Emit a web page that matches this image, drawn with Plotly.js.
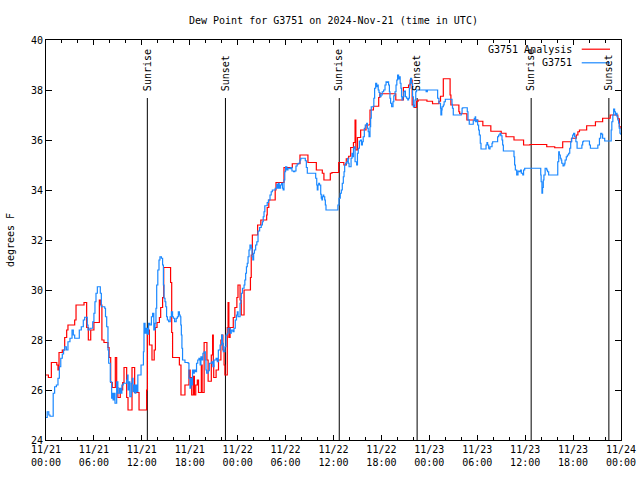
<!DOCTYPE html>
<html>
<head>
<meta charset="utf-8">
<script src="https://cdn.plot.ly/plotly-3.0.1.min.js"></script>
<style>html,body{margin:0;padding:0;background:#fff;}#chart{width:640px;height:480px;}</style>
</head>
<body>
<div id="chart"></div>
<script>
// Hours after 2024-11-21 00:00 UTC and dew point (deg F)
const analysisHours = [0,0.3,0.67,1.35,1.5,1.63,2.04,2.34,2.59,2.75,
3.59,3.76,4.76,5.09,5.3,5.6,6.0,6.68,6.85,7.0,
7.26,7.76,7.9,8.1,8.3,8.68,8.85,9.0,9.3,9.6,
9.77,10.1,10.27,10.77,11.1,11.65,12.6,12.7,12.95,13.27,
13.55,13.7,13.9,14.2,14.36,14.6,14.74,15.6,15.74,15.85,
16.7,16.9,17.4,17.9,18.05,18.24,18.45,18.58,18.75,18.95,
19.1,19.45,19.55,19.8,20.15,20.3,20.7,20.86,20.95,21.0,
21.3,21.6,21.9,22.0,22.15,22.3,22.4,22.7,22.8,22.9,
23.05,23.45,23.65,23.9,24.04,24.3,24.45,24.8,25.6,25.7,
25.84,26.5,26.9,27.63,27.7,27.9,28.7,28.8,29.8,30.84,
31.8,32.8,33.85,34.6,34.8,35.6,35.8,36.65,37.3,37.6,
37.9,38.15,38.5,38.7,38.8,39.0,39.4,40.07,40.57,41.0,
41.66,41.8,43.8,44.75,45.4,45.6,45.85,46.1,46.4,46.6,
47.7,48.4,49.2,49.4,49.75,50.6,50.7,51.7,51.8,52.7,
54.06,54.7,55.7,57.0,57.6,58.6,59.8,60.6,62.7,63.7,
64.7,65.8,66.4,66.6,66.8,67.7,68.8,69.7,70.65,71.6,
71.8,72.0];
const analysisDew = [26.6,26.5,27.1,27.0,26.8,27.5,27.6,28.1,28.4,28.6,
28.8,29.4,29.5,28.5,28.0,28.4,28.7,29.6,29.4,28.0,
27.9,27.7,27.3,26.3,26.1,27.3,26.1,25.7,26.0,26.3,
26.9,25.7,25.2,26.9,25.9,25.2,26.0,28.4,27.8,27.2,
27.6,28.5,28.7,28.9,29.3,29.7,30.9,30.3,28.3,27.3,
27.0,25.8,26.2,26.8,26.5,25.8,26.55,25.8,26.2,26.4,
25.9,27.0,25.9,27.9,27.2,26.35,27.4,28.2,27.0,26.5,
26.8,27.2,28.0,28.2,27.6,27.0,26.6,28.5,29.5,28.1,
28.5,28.9,29.3,29.7,30.2,29.6,29.0,30.0,30.5,31.4,
32.2,32.6,32.8,33.0,33.3,33.6,34.0,34.3,34.9,35.05,
35.4,35.1,34.8,34.67,34.4,34.67,34.7,35.1,35.0,35.25,
35.35,35.7,35.9,36.8,35.6,36.1,36.4,36.6,37.2,37.35,
37.7,37.85,37.6,38.1,38.2,38.4,37.4,37.3,37.55,37.6,
37.55,37.45,37.55,37.75,38.45,37.8,37.4,37.13,37.05,36.8,
36.75,36.57,36.35,36.27,36.13,36.0,35.8,35.82,35.73,35.69,
35.93,36.07,36.2,36.33,36.4,36.57,36.73,36.87,37.0,36.85,
36.53,36.45];

const stationHours = [0,0.15,0.35,0.5,0.9,1.08,1.3,1.5,1.67,1.85,
2.04,2.2,2.34,2.55,2.75,3.0,3.26,3.42,3.59,4.17,
4.42,4.67,4.84,5.17,5.26,5.5,5.85,6.0,6.13,6.26,
6.43,6.8,6.93,7.35,7.45,7.6,7.76,7.85,8.05,8.22,
8.3,8.4,8.5,8.64,8.85,9.0,9.2,9.35,9.5,9.68,
10.1,10.2,10.27,10.4,10.5,10.68,10.8,10.9,11.0,11.15,
11.25,11.35,11.5,11.9,12.2,12.27,12.4,12.55,12.7,12.85,
13.0,13.2,13.35,13.5,13.65,13.77,13.86,14.0,14.15,14.27,
14.45,14.6,14.7,14.78,14.9,15.0,15.1,15.2,15.36,15.55,
15.7,15.85,15.95,16.1,16.3,16.45,16.57,16.7,16.8,16.88,
16.95,17.02,17.1,17.4,17.8,17.9,18.03,18.15,18.25,18.35,
18.45,18.57,18.7,18.85,19.0,19.15,19.3,19.4,19.55,19.65,
19.8,19.95,20.03,20.12,20.3,20.45,20.75,20.9,21.04,21.3,
21.45,21.58,21.8,22.0,22.1,22.2,22.4,22.54,22.7,22.8,
23.05,23.2,23.4,23.54,23.7,23.85,23.96,24.05,24.3,24.4,
24.46,24.6,24.8,24.9,25.0,25.1,25.2,25.3,25.42,25.54,
25.7,25.8,25.9,26.0,26.1,26.25,26.4,26.55,26.75,26.95,
27.1,27.2,27.3,27.4,27.7,27.85,28.05,28.2,28.34,28.7,
28.9,29.0,29.1,29.2,29.35,29.5,29.6,29.7,29.8,29.9,
30.0,30.15,30.3,30.55,30.65,30.8,31.0,31.15,31.3,31.45,
31.6,31.8,31.9,32.47,32.6,32.72,33.77,33.9,33.97,34.05,
34.15,34.25,34.4,34.47,34.55,34.62,34.7,34.78,34.9,34.98,
35.06,36.55,36.69,36.85,36.98,37.1,37.23,37.32,37.4,37.52,
37.65,37.78,37.85,37.95,38.2,38.32,38.4,38.5,38.58,38.7,
38.9,39.0,39.1,39.24,39.4,39.5,39.62,39.72,39.86,39.98,
40.15,40.25,40.35,40.45,40.57,40.65,40.73,41.05,41.15,41.28,
41.4,41.5,41.6,41.7,41.82,41.95,42.1,42.28,42.45,42.58,
42.7,42.8,42.9,43.0,43.07,43.15,43.28,43.45,43.55,43.7,
43.83,43.93,44.03,44.15,44.25,44.35,44.45,44.52,44.58,44.68,
44.8,44.9,45.0,45.15,45.3,45.4,45.5,45.58,45.66,45.78,
45.9,46.0,46.2,46.3,46.4,47.6,47.75,49.04,49.2,49.4,
49.45,49.55,49.6,49.75,49.85,50.0,50.84,50.9,51.0,52.0,
52.1,52.18,52.75,52.84,53.0,53.5,53.63,53.75,53.8,53.9,
54.05,54.17,54.26,54.38,54.47,55.1,55.22,55.3,55.43,55.5,
55.6,55.85,55.93,56.55,56.68,56.85,56.97,57.1,57.18,57.27,
58.6,58.68,58.77,58.94,59.1,59.27,59.43,59.52,59.7,59.8,
59.94,61.95,62.0,62.1,62.18,62.27,62.35,62.5,62.7,62.8,
62.94,64.08,64.2,64.28,64.4,64.5,64.58,64.74,64.85,64.95,
65.0,65.15,65.28,65.45,65.58,65.7,65.82,65.95,66.07,66.2,
66.35,66.5,67.1,67.2,67.3,68.05,68.17,69.1,69.3,69.46,
69.6,69.7,69.96,70.77,70.85,70.98,71.08,71.2,71.3,71.35,
71.5,71.6,71.7,71.78,71.87,72.0];
const stationDew = [24.9,25.13,25.0,24.95,25.87,26.13,26.2,26.47,26.93,27.27,
27.44,27.6,27.73,27.6,27.93,28.07,28.4,28.2,28.07,28.4,
28.53,28.8,28.91,28.6,28.4,28.47,28.73,29.07,29.53,29.87,
30.13,29.87,29.33,29.27,28.93,28.53,27.6,27.07,26.33,25.67,
25.87,25.6,25.87,25.47,26.33,25.87,26.07,25.87,26.2,26.27,
26.4,26.6,26.0,26.33,25.73,26.27,26.47,25.93,26.2,25.87,
26.2,25.93,26.6,27.0,27.53,28.67,28.27,28.47,28.23,28.67,
28.6,28.93,29.07,28.4,28.67,29.27,30.2,30.8,31.2,31.33,
31.27,31.0,30.2,29.67,29.53,29.33,28.93,28.8,28.73,28.93,
29.13,28.93,28.87,28.73,28.87,28.93,29.13,29.0,28.93,28.6,
28.2,27.67,27.2,27.1,27.07,26.47,26.07,26.47,26.2,26.8,
26.67,26.8,26.73,27.07,27.2,27.27,27.0,27.33,27.2,27.47,
27.53,27.2,26.8,26.67,26.77,27.07,27.13,26.93,27.2,27.27,
27.13,27.6,27.8,28.2,27.87,27.53,27.73,28.2,28.27,28.47,
28.27,28.4,28.33,28.47,28.8,29.0,29.13,28.93,29.47,29.67,
29.87,30.07,30.2,30.4,30.67,30.93,31.07,31.33,31.6,31.8,
31.67,31.33,31.2,31.47,31.6,31.8,31.93,32.36,32.5,32.6,
32.73,32.93,33.13,33.37,33.5,33.6,33.8,33.93,34.0,34.07,
34.23,34.07,34.27,34.07,34.2,34.27,34.07,34.0,34.4,34.73,
34.93,34.8,34.87,34.85,34.9,34.76,34.73,34.76,34.96,35.04,
35.07,35.2,35.27,35.17,34.9,34.67,34.47,34.2,34.0,34.2,
34.27,34.2,33.83,33.67,33.6,33.73,33.8,33.73,33.6,33.4,
33.2,33.4,33.67,33.87,34.0,34.27,34.53,34.73,35.0,35.07,
35.13,35.27,35.07,34.93,35.27,35.47,35.33,35.67,35.73,35.13,
35.0,35.47,35.67,35.96,36.0,35.8,35.93,36.13,36.47,36.6,
36.67,36.47,36.33,36.13,36.53,36.87,37.33,37.67,38.07,38.27,
38.13,38.2,38.0,37.9,37.73,37.8,37.93,38.0,38.2,38.33,
38.3,38.33,38.2,37.93,37.67,37.47,37.33,37.53,37.77,37.93,
38.2,38.4,38.6,38.44,38.53,38.27,38.07,37.73,37.6,37.73,
37.93,37.96,37.73,37.67,37.6,37.67,38.07,38.27,38.47,38.27,
37.73,37.33,37.6,37.93,38.0,37.93,38.0,37.67,37.47,37.27,
37.0,37.2,37.33,37.4,37.53,37.63,37.43,37.27,37.0,37.07,
37.27,37.29,37.13,36.8,36.63,36.77,36.87,36.93,36.73,36.8,
36.6,36.4,36.2,35.87,35.64,35.8,35.9,35.8,35.67,35.64,
35.73,35.87,35.93,36.13,36.2,36.27,36.17,36.0,35.8,35.56,
35.33,35.0,34.8,34.6,34.76,34.73,34.8,34.67,34.6,34.8,
34.87,34.6,34.33,33.87,34.1,34.4,34.6,34.87,34.8,34.73,
34.6,35.13,35.53,35.4,35.27,35.2,35.07,34.96,35.0,35.07,
35.2,35.33,35.4,35.47,35.67,35.93,36.07,36.2,36.27,36.13,
35.93,35.67,35.8,35.93,35.96,35.8,35.67,35.8,36.07,36.27,
36.23,36.07,35.96,36.4,36.73,37.0,37.24,37.13,37.0,37.07,
36.93,36.8,36.67,36.47,36.27,36.2];

const sunEventHours = [12.69, 22.47, 36.72, 46.47, 60.75, 70.48];
const sunEventLabels = ["Sunrise", "Sunset", "Sunrise", "Sunset", "Sunrise", "Sunset"];
const seriesNames = ["G3751 Analysis", "G3751"];
const seriesColors = ["#ff0000", "#1a88ff"];
const yTicks = [24, 26, 28, 30, 32, 34, 36, 38, 40];

const BASE = Date.UTC(2024, 10, 21, 0, 0, 0);
function toDate(h) {
  return new Date(BASE + Math.round(h * 3600000)).toISOString().replace('T', ' ').slice(0, 19);
}

const FONT = "DejaVu Sans Mono, Liberation Mono, monospace";

const traces = [
  {x: analysisHours.map(toDate), y: analysisDew, type: 'scatter', mode: 'lines',
   line: {color: seriesColors[0], width: 1.2, shape: 'hv'}, name: seriesNames[0], showlegend: false},
  {x: stationHours.map(toDate), y: stationDew, type: 'scatter', mode: 'lines',
   line: {color: seriesColors[1], width: 1.2, shape: 'hv'}, name: seriesNames[1], showlegend: false}
];

const shapes = [];
const annotations = [];
sunEventHours.forEach((h, i) => {
  shapes.push({type: 'line', xref: 'x', yref: 'paper', x0: toDate(h), x1: toDate(h), y0: 0, y1: 0.855,
               line: {color: '#000', width: 1}, layer: 'below'});
  annotations.push({xref: 'x', yref: 'paper', x: toDate(h), y: 0.868, text: sunEventLabels[i],
                    textangle: -90, showarrow: false, xanchor: 'center', yanchor: 'bottom',
                    font: {family: FONT, size: 10, color: '#000'}});
});

// legend (text right-aligned, line sample to its right)
const legY = [0.977, 0.943];
seriesNames.forEach((n, i) => {
  annotations.push({xref: 'paper', yref: 'paper', x: 0.9183, y: legY[i], text: n, showarrow: false,
                    xanchor: 'right', yanchor: 'middle', font: {family: FONT, size: 10, color: '#000'}});
  shapes.push({type: 'line', xref: 'paper', yref: 'paper', x0: 0.9317, x1: 0.9809, y0: legY[i], y1: legY[i],
               line: {color: seriesColors[i], width: 1.2}});
});

const layout = {
  width: 640, height: 480,
  margin: {l: 46, r: 19, t: 40, b: 40},
  paper_bgcolor: '#fff', plot_bgcolor: '#fff',
  font: {family: FONT, size: 10, color: '#000'},
  title: {text: 'Dew Point for G3751 on 2024-Nov-21 (time in UTC)', x: 0.521, xanchor: 'center',
          y: 0.958, yanchor: 'middle', yref: 'container', font: {family: FONT, size: 10, color: '#000'}},
  xaxis: {
    type: 'date', range: [toDate(0), toDate(72)], tick0: toDate(0), dtick: 6 * 3600000,
    tickformat: '%m/%d<br>%H:%M', ticks: 'inside', ticklen: 5, tickcolor: '#000',
    minor: {dtick: 2 * 3600000, ticks: 'inside', ticklen: 3, tickcolor: '#000', showgrid: false},
    showline: true, linecolor: '#000', linewidth: 1, mirror: 'ticks', showgrid: false, zeroline: false,
    tickfont: {family: FONT, size: 10, color: '#000'}, automargin: false
  },
  yaxis: {
    range: [24, 40], tickvals: yTicks, ticktext: yTicks.map(String), ticks: 'inside', ticklen: 6, tickcolor: '#000',
    showline: true, linecolor: '#000', linewidth: 1, mirror: 'ticks', showgrid: false, zeroline: false,
    tickfont: {family: FONT, size: 10, color: '#000'}, automargin: false,
    title: {text: 'degrees F', standoff: 14, font: {family: FONT, size: 10, color: '#000'}}
  },
  shapes: shapes,
  annotations: annotations,
  showlegend: false
};

Plotly.newPlot('chart', traces, layout, {staticPlot: true, displayModeBar: false});
</script>
</body>
</html>
